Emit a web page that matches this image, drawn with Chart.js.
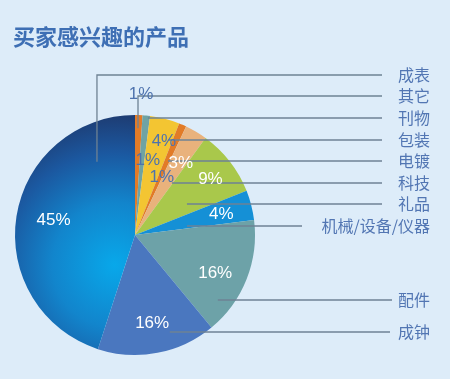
<!DOCTYPE html>
<html><head><meta charset="utf-8">
<script src="https://cdn.jsdelivr.net/npm/chart.js@4/dist/chart.umd.min.js"></script>
<style>html,body{margin:0;padding:0;background:#ddecf9;}#wrap{width:450px;height:379px;position:relative;}</style>
</head><body><div id="wrap"><canvas id="c" width="450" height="379"></canvas></div>
<script>
const title = '买家感兴趣的产品';
const categories = ['其它','刊物','包装','电镀','科技','礼品','机械/设备/仪器','配件','成钟','成表'];
const values = [1,1,4,1,3,9,4,16,16,45];
const pctLabels = values.map(v => v + '%');
const sliceColors = ['#e27b27','#6fa3a3','#f3c532','#e27b27','#e9b27c','#a9c84b','#1590d6','#6da2a8','#4a77bf',null];
// layout (styling) arrays
const labelRowY = [96,118,140,161,183,204,226,300,332,75];
const lineRightX = [382,382,382,382,382,382,302,392,390,382];
const lineEndK = [0.025,0.108,0.275,0.275,0.308,0.433,0.433,0.69,0.29,-0.317];
const vertEndK = [-0.89,null,null,null,null,null,null,null,null,-0.61];
const pctAngleOff = [0.7,4.4,2.7,1.6,2,1.5,0.7,3.8,-0.2,1.4];
const pctRadK = [1.17,0.63,0.82,0.53,0.71,0.78,0.74,0.74,0.75,0.69];
const pctDark = [true,true,true,true,false,false,false,false,false,false];

function bigGradient(ctx, area){
  const cx = (area.left+area.right)/2, cy=(area.top+area.bottom)/2, r=(area.right-area.left)/2;
  const g = ctx.createRadialGradient(cx-0.17*r, cy+0.25*r, 0, cx-0.17*r, cy+0.25*r, r*1.3);
  g.addColorStop(0,'#08a8ea');
  g.addColorStop(0.4,'#1285cc');
  g.addColorStop(0.72,'#1b58a0');
  g.addColorStop(1,'#1e386c');
  return g;
}

const overlay = {
  id:'overlay',
  afterDraw(chart){
    const ctx = chart.ctx;
    const meta = chart.getDatasetMeta(0);
    ctx.save();
    ctx.fillStyle='#3e6fb4';
    ctx.font='bold 22px "Noto Sans CJK SC"';
    ctx.textBaseline='middle';
    ctx.textAlign='left';
    ctx.fillText(title, 13, 37);
    ctx.strokeStyle='#6e8294';
    ctx.lineWidth=1.3;
    meta.data.forEach((arc,i)=>{
      const cx=arc.x, cy=arc.y, R=arc.outerRadius;
      const y=labelRowY[i];
      const ex=cx+lineEndK[i]*R;
      ctx.beginPath();
      ctx.moveTo(lineRightX[i], y);
      ctx.lineTo(ex, y);
      if(vertEndK[i]!==null){ ctx.lineTo(ex, cy+vertEndK[i]*R); }
      ctx.stroke();
      ctx.fillStyle='#5276b3';
      ctx.font='16px "Noto Sans CJK SC"';
      ctx.textAlign='right';
      ctx.textBaseline='middle';
      ctx.fillText(categories[i], 430, y);
    });
    meta.data.forEach((arc,i)=>{
      const cx=arc.x, cy=arc.y, R=arc.outerRadius;
      const mid=(arc.startAngle+arc.endAngle)/2 + pctAngleOff[i]*Math.PI/180;
      const px=cx+Math.cos(mid)*R*pctRadK[i];
      const py=cy+Math.sin(mid)*R*pctRadK[i];
      ctx.fillStyle=pctDark[i]?'#4d72ae':'#ffffff';
      ctx.font='17px "Liberation Sans", Arial, sans-serif';
      ctx.textAlign='center';
      ctx.textBaseline='middle';
      ctx.fillText(pctLabels[i], px, py);
    });
    ctx.restore();
  }
};

new Chart(document.getElementById('c'),{
  type:'pie',
  data:{labels:categories,datasets:[{data:values,borderWidth:0,
    backgroundColor:(c)=>{
      const i=c.dataIndex;
      if(sliceColors[i]) return sliceColors[i];
      const area=c.chart.chartArea;
      if(!area) return '#1a5aa0';
      return bigGradient(c.chart.ctx, area);
    }}]},
  options:{responsive:false,animation:false,
    layout:{padding:{left:15,top:115,right:195,bottom:24}},
    plugins:{legend:{display:false},tooltip:{enabled:false}}},
  plugins:[overlay]
});
</script></body></html>
